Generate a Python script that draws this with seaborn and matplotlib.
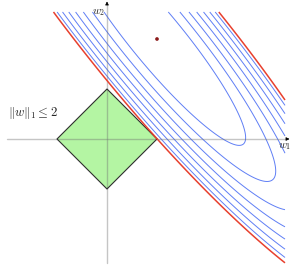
import numpy as np
import matplotlib
matplotlib.use("Agg")
import matplotlib.pyplot as plt
import seaborn as sns
import pandas as pd

# ---- data ----
center = [2.0, 4.0]            # unconstrained optimum (dot)
major_angle_deg = -50.6        # orientation of the ellipse major axis
semi_axes = [13.6, 2.6]        # semi axes of the red (touching) level set
blue_levels = [0.16, 0.287, 0.414, 0.541, 0.668, 0.795, 0.915]
red_level = [1.0]
diamond_x = [2, 0, -2, 0, 2]
diamond_y = [0, 2, 0, -2, 0]
constraint_label = r"$\|w\|_1 \leq 2$"
axis_labels = [r"$w_1$", r"$w_2$"]

sns.set_theme(style="white")
plt.rcParams["mathtext.fontset"] = "cm"

fig = plt.figure(figsize=(2.9, 2.65), dpi=100)
ax = fig.add_axes([0, 0, 1, 1])
ax.set_xlim(-4.28, 7.32)
ax.set_ylim(-5.04, 5.56)
ax.axis("off")

# quadratic loss level sets
xs = np.linspace(-4.28, 7.12, 700)
ys = np.linspace(-4.96, 5.08, 700)
X, Y = np.meshgrid(xs, ys)
th = np.deg2rad(major_angle_deg)
dx = X - center[0]
dy = Y - center[1]
u = dx * np.cos(th) + dy * np.sin(th)
v = -dx * np.sin(th) + dy * np.cos(th)
F = (u / semi_axes[0]) ** 2 + (v / semi_axes[1]) ** 2

# diamond
ax.fill(diamond_x, diamond_y, color="#b4f5a3", zorder=1, lw=0)
diamond_df = pd.DataFrame({"x": diamond_x, "y": diamond_y})
sns.lineplot(data=diamond_df, x="x", y="y", sort=False, estimator=None,
             color="#2e2e2e", lw=0.8, ax=ax, zorder=4)

# axes lines
ax.plot([-4.0, 7.22], [0, 0], color="#707070", alpha=0.4, lw=1.0, zorder=3)
ax.plot([0, 0], [-4.96, 5.4], color="#707070", alpha=0.4, lw=1.0, zorder=3)
ax.annotate("", xy=(7.3, 0), xytext=(7.1, 0),
            arrowprops=dict(arrowstyle="-|>", color="black", lw=0.5,
                            mutation_scale=5), zorder=5)
ax.annotate("", xy=(0, 5.5), xytext=(0, 5.3),
            arrowprops=dict(arrowstyle="-|>", color="black", lw=0.5,
                            mutation_scale=5), zorder=5)

ax.contour(X, Y, F, levels=blue_levels, colors="#5f7ef5", linewidths=0.7, zorder=2)
ax.contour(X, Y, F, levels=red_level, colors="#e8402e", linewidths=1.1, zorder=5)

sns.scatterplot(x=[center[0]], y=[center[1]], color="#8b1a1a", s=7,
                edgecolor="none", ax=ax, zorder=6)

ax.text(6.84, -0.1, axis_labels[0], ha="left", va="top", fontsize=8, zorder=6)
ax.text(-0.6, 5.26, axis_labels[1], ha="left", va="top", fontsize=8, zorder=6)
ax.text(-3.96, 1.04, constraint_label, ha="left", va="center", fontsize=9.2, zorder=6)

fig.savefig("out.png", dpi=100)
